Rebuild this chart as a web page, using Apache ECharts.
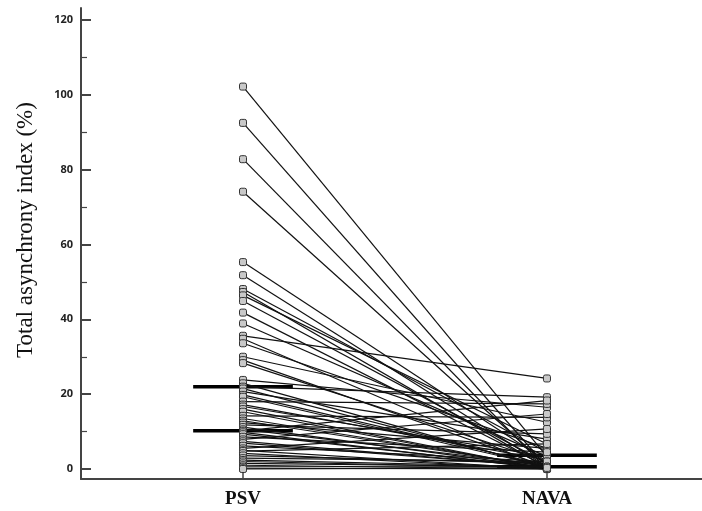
<!DOCTYPE html>
<html>
<head>
<meta charset="utf-8">
<script src="https://cdn.jsdelivr.net/npm/echarts@6/dist/echarts.min.js"></script>
<style>
  html, body { margin: 0; padding: 0; background: #fff; }
  #chart { width: 702px; height: 511px; }
</style>
</head>
<body>
<div id="chart"></div>
<script>
// groups on the x axis
const groups = ['PSV', 'NAVA'];

// paired values per patient (same order in both arrays)
const psvValues = [102.2, 92.5, 82.8, 74.1, 55.3, 51.8, 48.1, 47.3, 46.4, 44.9,
  41.8, 38.9, 35.6, 34.8, 33.6, 30.0, 29.1, 28.3, 23.8, 22.9,
  22.0, 21.5, 20.7, 19.8, 19.3, 18.0, 17.2, 16.7, 16.0, 15.3,
  14.2, 13.5, 12.9, 12.4, 11.8, 11.2, 10.6, 10.2, 9.8, 9.3,
  8.6, 7.9, 7.4, 6.9, 6.2, 5.5, 5.0, 4.8, 4.2, 3.6,
  2.9, 2.4, 2.0, 1.5, 1.0, 0.6, 0.2, 0.0];
const navaValues = [3.3, 0.6, 0.0, 1.0, 2.0, 0.6, 4.5, 0.3, 6.7, 1.5,
  0.6, 3.3, 24.2, 0.0, 5.5, 12.5, 0.6, 2.0, 16.5, 0.3,
  19.2, 0.6, 8.0, 1.0, 0.6, 17.4, 2.4, 3.3, 0.0, 0.0,
  13.8, 0.6, 0.6, 5.5, 9.4, 0.3, 1.0, 18.3, 0.0, 0.3,
  4.5, 14.7, 0.6, 0.6, 2.0, 10.7, 0.0, 6.7, 0.0, 1.5,
  2.0, 0.6, 0.3, 0.6, 0.0, 0.6, 0.0, 0.3];

// horizontal summary bars (upper / lower) for each group
const psvBars = [22.0, 10.2];
const navaBars = [3.7, 0.6];

// axis ticks
const majorTicks = [0, 20, 40, 60, 80, 100, 120];
const minorTicks = [10, 30, 50, 70, 90, 110];

const barHalf = 0.164;

const chart = echarts.init(document.getElementById('chart'), null, {renderer: 'canvas'});

const series = [];

// summary bars
[psvBars, navaBars].forEach((bars, g) => {
  bars.forEach(v => {
    series.push({
      type: 'line',
      data: [[g - barHalf, v], [g + barHalf, v]],
      symbol: 'none',
      lineStyle: {color: '#000', width: 3.5},
      z: 2,
      silent: true
    });
  });
});

// one line per patient
psvValues.forEach((v, i) => {
  series.push({
    type: 'line',
    data: [[0, v], [1, navaValues[i]]],
    symbol: 'roundRect',
    symbolSize: 7,
    itemStyle: {color: '#c9c9c9', borderColor: '#333', borderWidth: 1},
    lineStyle: {color: '#111', width: 1.2},
    z: 3,
    silent: true
  });
});

const option = {
  animation: false,
  grid: {left: 81, right: 0, top: 8, bottom: 32},
  xAxis: {
    type: 'value',
    min: -0.533,
    max: 1.51,
    splitLine: {show: false},
    axisLine: {onZero: false, lineStyle: {color: '#444', width: 2}},
    axisTick: {show: true, inside: true, length: 10, customValues: [0, 1], lineStyle: {color: '#444', width: 1.5}},
    axisLabel: {
      customValues: [0, 1],
      formatter: v => groups[Math.round(v)],
      fontFamily: 'Liberation Serif',
      fontWeight: 'bold',
      fontSize: 19,
      color: '#111',
      margin: 11
    }
  },
  yAxis: [{
    type: 'value',
    position: 'left',
    min: -2.67,
    max: 123.2,
    splitLine: {show: false},
    axisLine: {show: true, onZero: false, lineStyle: {color: '#444', width: 2}},
    axisTick: {show: true, inside: true, length: 10, customValues: majorTicks, lineStyle: {color: '#444', width: 2}},
    axisLabel: {
      customValues: majorTicks,
      fontFamily: 'Open Sans',
      fontWeight: 'bold',
      fontSize: 11,
      color: '#222',
      margin: 8
    }
  }, {
    type: 'value',
    position: 'left',
    offset: 0,
    min: -2.67,
    max: 123.2,
    splitLine: {show: false},
    axisLine: {show: false, onZero: false},
    axisTick: {show: true, inside: true, length: 6, customValues: minorTicks, lineStyle: {color: '#444', width: 1.2}},
    axisLabel: {show: false}
  }],
  graphic: [{
    type: 'text',
    x: 26,
    y: 230,
    rotation: Math.PI / 2,
    style: {
      text: 'Total asynchrony index (%)',
      font: '23px "Liberation Serif"',
      fill: '#111',
      align: 'center',
      verticalAlign: 'middle'
    }
  }],
  series: series
};

chart.setOption(option);
</script>
</body>
</html>
